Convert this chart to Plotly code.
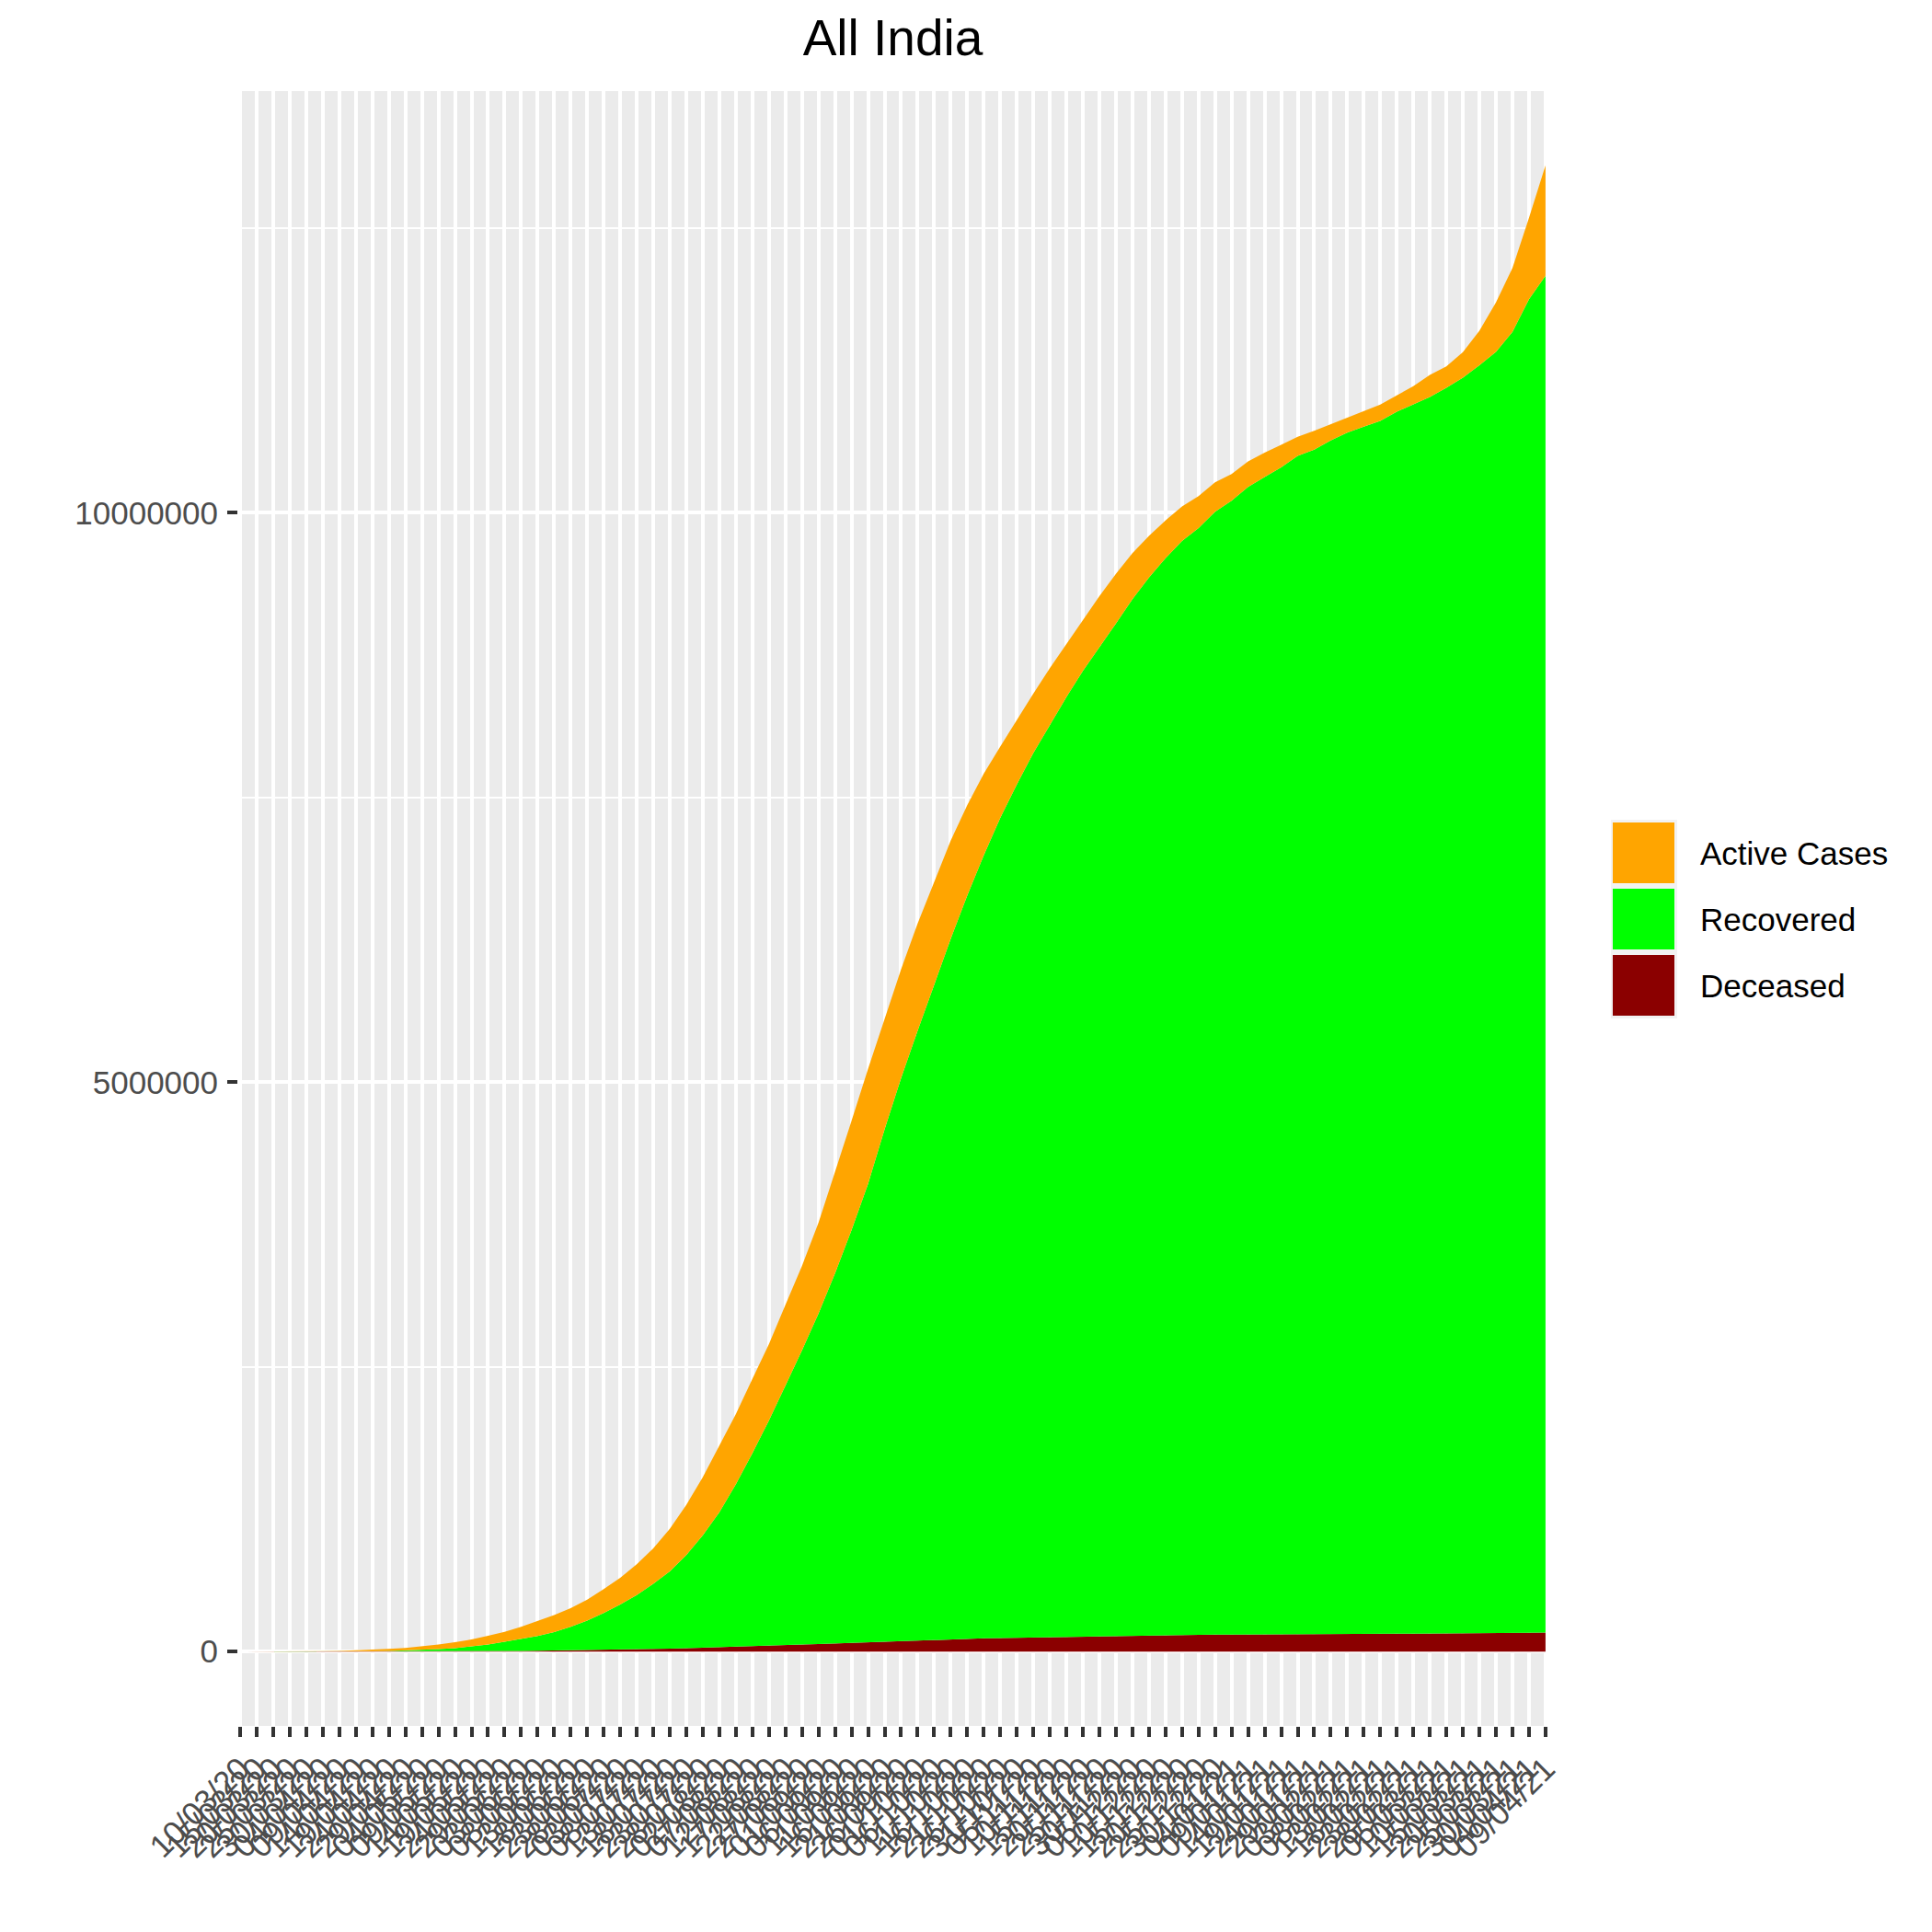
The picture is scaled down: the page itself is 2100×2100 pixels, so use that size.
import plotly.graph_objects as go
import pandas as pd

# ---- categories (every 5 days, 10 Mar 2020 .. 09 Apr 2021) ----
dates = [d.strftime("%Y-%m-%d") for d in pd.date_range("2020-03-10", periods=80, freq="5D")]
tick_labels = [pd.Timestamp(d).strftime("%d/%m/%y") for d in dates]

# ---- series values ----
deceased = [0, 2, 5, 12, 35, 100, 227, 393, 559, 780, 1079, 1568, 2109, 2649, 3303, 4021,
            4971, 6075, 7466, 9195, 12573, 14476, 16475, 18655, 21129, 23727, 26816, 30601,
            34193, 38135, 42518, 47033, 51797, 56706, 61529, 66333, 71642, 77472, 83198,
            88935, 94503, 99773, 104555, 109150, 112998, 116616, 119502, 122111, 124985,
            127571, 130070, 132726, 135223, 137621, 140182, 142190, 144096, 145810, 147092,
            148738, 149649, 150999, 151918, 152718, 153508, 154147, 154703, 155252, 155732,
            156111, 156598, 157195, 157756, 158306, 159044, 159755, 160692, 162114, 165101,
            168000]

recovered = [4, 13, 23, 43, 124, 275, 620, 1359, 2547, 5496, 8437, 12727, 19358, 27920,
             42309, 57721, 82369, 104107, 129215, 162379, 204711, 258685, 321723, 394227,
             476378, 571460, 677422, 817209, 988029, 1186203, 1427005, 1695982, 1977671,
             2280566, 2583948, 2901908, 3250429, 3624196, 4025079, 4497867, 4941627, 5352078,
             5744693, 6149535, 6524595, 6875518, 7201070, 7491513, 7765966, 8013783, 8250000,
             8478124, 8680680, 8889585, 9100792, 9289000, 9456449, 9606111, 9718059, 9860280,
             9956557, 10075950, 10162738, 10245741, 10345985, 10400000, 10480455, 10548521,
             10600625, 10650845, 10730000, 10795000, 10859048, 10938146, 11027543, 11134575,
             11252000, 11425000, 11710000, 11912000]

active = [58, 98, 222, 602, 1238, 3202, 5878, 9735, 14159, 18171, 23546, 32138, 41472, 51401,
          61138, 77103, 86423, 106737, 129917, 149348, 163248, 183022, 210120, 235433, 269789,
          311565, 373380, 440320, 509447, 579357, 617341, 652456, 670532, 707668, 742023,
          797867, 882542, 958316, 1009976, 973303, 956402, 942217, 907883, 861853, 795087,
          715812, 625857, 570458, 520773, 494657, 465057, 439747, 450802, 435603, 403248,
          365579, 332002, 303639, 281694, 257656, 234263, 223335, 213027, 197201, 168243,
          165901, 142126, 134421, 136389, 143245, 143578, 160046, 193995, 189109, 223244,
          304800, 433960, 562221, 713966, 970000]

series_names = ["Deceased", "Recovered", "Active Cases"]
series_colors = ["#8B0000", "#00FF00", "#FFA500"]
series_values = [deceased, recovered, active]

# ---- layout geometry (pixels; page body has an 8px margin) ----
OFF = 8
W = H = 2100 - OFF
PL, PR, PT, PB = 259, 1682, 99, 1876          # panel edges in page pixels
ML, MT = PL - OFF, PT - OFF
MR = W - ML - (PR - PL)
MB = H - MT - (PB - PT)
FONT = "Liberation Sans, Arial, Helvetica, sans-serif"

def px(x):
    return (x - PL) / (PR - PL)

def py(y):
    return (PB - y) / (PB - PT)

fig = go.Figure()
for name, vals, col in zip(series_names, series_values, series_colors):
    fig.add_trace(go.Scatter(
        x=dates, y=vals, name=name, mode="lines", stackgroup="one",
        line=dict(width=0, color=col), fillcolor=col, showlegend=False,
    ))

totals = [a + b + c for a, b, c in zip(deceased, recovered, active)]
ymax = max(totals)
x0 = pd.Timestamp(dates[0]) - pd.Timedelta(hours=14)
x1 = pd.Timestamp(dates[-1]) + pd.Timedelta(hours=14)

fig.update_layout(
    width=W, height=H,
    margin=dict(l=ML, r=MR, t=MT, b=MB, pad=0),
    paper_bgcolor="white", plot_bgcolor="#EBEBEB",
    font=dict(family=FONT, size=35, color="#4D4D4D"),
    title=dict(text="All India", xref="paper", x=0.5, xanchor="center",
               y=1 - 33 / H, yanchor="middle", yref="container",
               font=dict(size=55, color="black", family=FONT)),
    showlegend=False,
)
fig.update_xaxes(
    type="date", range=[x0, x1],
    tickmode="array", tickvals=dates, ticktext=tick_labels, tickangle=-45,
    ticks="outside", ticklen=11, tickwidth=4, tickcolor="#333333",
    tickfont=dict(size=35, color="#4D4D4D", family=FONT),
    showgrid=True, gridcolor="white", gridwidth=4.3,
    zeroline=False, showline=False,
)
fig.update_yaxes(
    range=[-0.05 * ymax, 1.05 * ymax],
    tickmode="linear", tick0=0, dtick=5000000, tickformat="d",
    ticks="outside", ticklen=11, tickwidth=4, tickcolor="#333333",
    tickfont=dict(size=35, color="#4D4D4D", family=FONT),
    ticklabelstandoff=3,
    showgrid=True, gridcolor="white", gridwidth=4.3,
    minor=dict(tick0=0, dtick=2500000, showgrid=True, gridcolor="white", gridwidth=2.3),
    zeroline=False, showline=False,
)

# ---- legend (drawn manually to match ggplot key size) ----
shapes = [dict(type="rect", xref="paper", yref="paper",
               x0=px(1751), x1=px(1823), y0=py(1107), y1=py(891),
               fillcolor="#F2F2F2", line=dict(width=0), layer="above")]
annotations = []
legend_order = ["Active Cases", "Recovered", "Deceased"]
for i, name in enumerate(legend_order):
    col = series_colors[series_names.index(name)]
    top = 894 + 72 * i
    shapes.append(dict(type="rect", xref="paper", yref="paper",
                       x0=px(1753), x1=px(1820), y0=py(top + 66), y1=py(top),
                       fillcolor=col, line=dict(width=0), layer="above"))
    annotations.append(dict(text=name, xref="paper", yref="paper",
                            x=px(1846), y=py(top + 33), xanchor="left", yanchor="middle",
                            showarrow=False, font=dict(size=35, color="black", family=FONT)))
fig.update_layout(shapes=shapes, annotations=annotations)

fig.write_html("out.html")
